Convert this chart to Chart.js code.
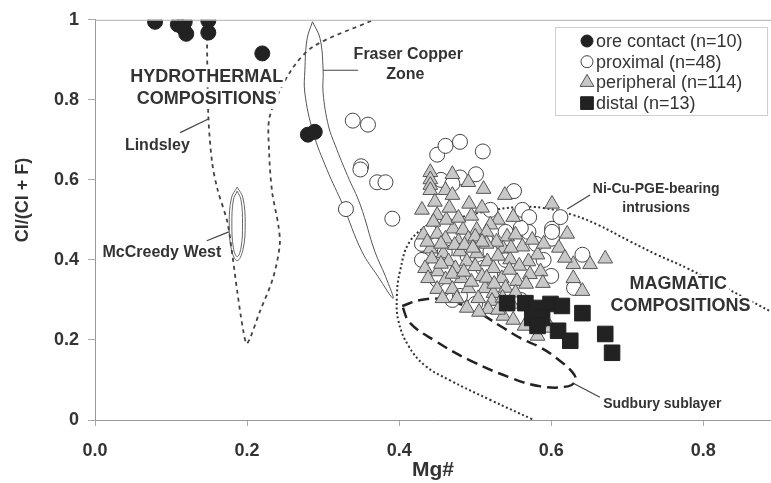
<!DOCTYPE html>
<html>
<head>
<meta charset="utf-8">
<script src="https://cdn.jsdelivr.net/npm/chart.js@4.4.1/dist/chart.umd.min.js"></script>
<style>
  html, body { margin: 0; padding: 0; background: #fff; }
  #wrap { width: 771px; height: 483px; }
</style>
</head>
<body>
<div id="wrap"><canvas id="mgChart"></canvas></div>
<script>
// --- SAMPLE DATA: [Mg#, Cl/(Cl + F)] ---
const oreContact = [
    [0.079, 0.995], [0.109, 0.988], [0.118, 0.995], [0.120, 0.965], [0.116, 0.980],
    [0.149, 0.998], [0.149, 0.968], [0.220, 0.916], [0.280, 0.713], [0.289, 0.720]
];

const proximal = [
    [0.339, 0.748], [0.359, 0.738], [0.350, 0.634], [0.349, 0.626], [0.371, 0.594],
    [0.382, 0.594], [0.330, 0.527], [0.391, 0.503], [0.450, 0.663], [0.461, 0.685],
    [0.480, 0.695], [0.510, 0.671], [0.480, 0.606], [0.501, 0.614], [0.551, 0.572],
    [0.520, 0.525], [0.562, 0.525], [0.571, 0.507], [0.570, 0.470], [0.601, 0.478],
    [0.601, 0.453], [0.612, 0.507], [0.513, 0.453], [0.641, 0.413], [0.445, 0.438],
    [0.601, 0.470], [0.455, 0.600], [0.470, 0.590], [0.440, 0.470], [0.430, 0.440],
    [0.460, 0.420], [0.490, 0.410], [0.520, 0.420], [0.540, 0.470], [0.560, 0.480],
    [0.470, 0.300], [0.480, 0.310], [0.500, 0.290], [0.430, 0.400], [0.450, 0.350],
    [0.520, 0.360], [0.540, 0.400], [0.580, 0.440], [0.590, 0.400], [0.600, 0.360],
    [0.630, 0.330], [0.560, 0.300], [0.510, 0.380]
];

const peripheral = [
    [0.441, 0.619], [0.441, 0.601], [0.441, 0.587], [0.441, 0.574], [0.470, 0.614],
    [0.491, 0.594], [0.511, 0.577], [0.461, 0.574], [0.470, 0.562], [0.539, 0.562],
    [0.601, 0.540], [0.430, 0.525], [0.450, 0.512], [0.509, 0.530], [0.530, 0.500],
    [0.550, 0.507], [0.621, 0.465], [0.520, 0.488], [0.432, 0.463], [0.450, 0.465],
    [0.471, 0.478], [0.484, 0.475], [0.502, 0.475], [0.542, 0.458], [0.553, 0.463],
    [0.461, 0.453], [0.478, 0.446], [0.491, 0.453], [0.500, 0.458], [0.562, 0.433],
    [0.537, 0.428], [0.582, 0.413], [0.441, 0.428], [0.458, 0.416], [0.480, 0.421],
    [0.502, 0.416], [0.443, 0.403], [0.465, 0.396], [0.489, 0.396], [0.516, 0.396],
    [0.546, 0.401], [0.570, 0.396], [0.434, 0.379], [0.451, 0.371], [0.474, 0.379],
    [0.500, 0.384], [0.524, 0.379], [0.586, 0.371], [0.438, 0.354], [0.461, 0.351],
    [0.482, 0.354], [0.509, 0.359], [0.535, 0.354], [0.555, 0.347], [0.572, 0.364],
    [0.589, 0.342], [0.450, 0.327], [0.470, 0.327], [0.491, 0.329], [0.513, 0.329],
    [0.524, 0.317], [0.457, 0.304], [0.476, 0.304], [0.504, 0.304], [0.522, 0.297],
    [0.489, 0.280], [0.517, 0.277], [0.629, 0.389], [0.629, 0.354], [0.641, 0.322],
    [0.651, 0.389], [0.671, 0.403], [0.537, 0.260], [0.582, 0.210], [0.599, 0.230],
    [0.550, 0.250], [0.565, 0.235], [0.445, 0.495], [0.462, 0.500], [0.478, 0.505],
    [0.495, 0.510], [0.515, 0.470], [0.528, 0.445], [0.547, 0.430], [0.515, 0.440],
    [0.530, 0.410], [0.558, 0.385], [0.545, 0.375], [0.567, 0.340], [0.540, 0.330],
    [0.553, 0.318], [0.536, 0.305], [0.548, 0.290], [0.505, 0.270], [0.530, 0.275],
    [0.495, 0.345], [0.473, 0.437], [0.455, 0.440], [0.437, 0.445], [0.486, 0.437],
    [0.509, 0.445], [0.497, 0.430], [0.470, 0.365], [0.485, 0.370], [0.455, 0.390],
    [0.515, 0.355], [0.525, 0.340], [0.610, 0.430], [0.618, 0.405], [0.575, 0.450],
    [0.590, 0.440], [0.447, 0.545], [0.492, 0.540], [0.466, 0.530]
];

const distal = [
    [0.542, 0.292], [0.566, 0.292], [0.581, 0.280], [0.575, 0.255], [0.599, 0.290],
    [0.614, 0.285], [0.588, 0.255], [0.582, 0.235], [0.609, 0.223], [0.625, 0.198],
    [0.641, 0.267], [0.671, 0.215], [0.680, 0.168]
];

// --- FIELD OUTLINES (same units) ---
const lindsley = [
    [0.147, 0.998], [0.149, 0.762], [0.154, 0.644], [0.161, 0.577], [0.174, 0.495],
    [0.180, 0.421], [0.187, 0.322], [0.195, 0.223], [0.200, 0.191], [0.217, 0.272],
    [0.234, 0.354], [0.243, 0.438], [0.241, 0.488], [0.233, 0.569], [0.229, 0.668],
    [0.230, 0.760], [0.257, 0.871], [0.287, 0.933], [0.364, 0.998]
];

const fraser = [
    [0.286, 0.995], [0.296, 0.953], [0.300, 0.874], [0.300, 0.817], [0.307, 0.735],
    [0.316, 0.686], [0.332, 0.611], [0.349, 0.537], [0.368, 0.421], [0.382, 0.359],
    [0.392, 0.304], [0.372, 0.359], [0.351, 0.421], [0.326, 0.537], [0.305, 0.626],
    [0.287, 0.718], [0.276, 0.817], [0.276, 0.874], [0.279, 0.953], [0.286, 0.995]
];

const mccreedyOuter = [
    [0.187, 0.582], [0.1945, 0.555], [0.1975, 0.490], [0.1945, 0.425], [0.187, 0.398],
    [0.1795, 0.425], [0.1765, 0.490], [0.1795, 0.555], [0.187, 0.582]
];
const mccreedyInner = [
    [0.187, 0.572], [0.192, 0.550], [0.194, 0.490], [0.192, 0.430], [0.187, 0.408],
    [0.182, 0.430], [0.180, 0.490], [0.182, 0.550], [0.187, 0.572]
];

const niCuPge = [
    [0.575, 0.002], [0.520, 0.050], [0.467, 0.099], [0.434, 0.136], [0.412, 0.186],
    [0.399, 0.248], [0.397, 0.309], [0.401, 0.371], [0.414, 0.446], [0.441, 0.488],
    [0.471, 0.502], [0.511, 0.520], [0.555, 0.532], [0.589, 0.530], [0.629, 0.512],
    [0.661, 0.488], [0.704, 0.446], [0.739, 0.413], [0.779, 0.379], [0.895, 0.265]
];

const sudbury = [
    [0.404, 0.285], [0.428, 0.300], [0.454, 0.302], [0.493, 0.280], [0.533, 0.235],
    [0.559, 0.205], [0.586, 0.181], [0.608, 0.153], [0.628, 0.119], [0.632, 0.099],
    [0.622, 0.084], [0.586, 0.084], [0.546, 0.106], [0.493, 0.149], [0.447, 0.198],
    [0.414, 0.243], [0.404, 0.285]
];

const xTicks = [0, 0.2, 0.4, 0.6, 0.8];
const xTickLabels = ['0.0', '0.2', '0.4', '0.6', '0.8'];
const yTicks = [0, 0.2, 0.4, 0.6, 0.8, 1];
const yTickLabels = ['0', '0.2', '0.4', '0.6', '0.8', '1'];

const FONT = "'Liberation Sans', Arial, sans-serif";
const toXY = arr => arr.map(p => ({ x: p[0], y: p[1] }));

// text labels inside the plot (anchored in data units)
const labels = [
    { text: 'HYDROTHERMAL', x: 0.147, y: 0.856, size: 18 },
    { text: 'COMPOSITIONS', x: 0.147, y: 0.802, size: 18 },
    { text: 'Lindsley', x: 0.082, y: 0.686, size: 16 },
    { text: 'McCreedy West', x: 0.088, y: 0.418, size: 16 },
    { text: 'Fraser Copper', x: 0.412, y: 0.913, size: 16 },
    { text: 'Zone', x: 0.408, y: 0.864, size: 16 },
    { text: 'Ni-Cu-PGE-bearing', x: 0.738, y: 0.577, size: 14 },
    { text: 'intrusions', x: 0.738, y: 0.530, size: 14 },
    { text: 'MAGMATIC', x: 0.767, y: 0.339, size: 18 },
    { text: 'COMPOSITIONS', x: 0.770, y: 0.285, size: 18 },
    { text: 'Sudbury sublayer', x: 0.746, y: 0.040, size: 14 }
];

const leaders = [
    [0.112, 0.718, 0.149, 0.752],
    [0.147, 0.448, 0.176, 0.470],
    [0.300, 0.874, 0.346, 0.874],
    [0.651, 0.562, 0.621, 0.527],
    [0.664, 0.057, 0.629, 0.092]
];

const legendItems = [
    { text: 'ore contact (n=10)', pointStyle: 'circle', radius: 6, fill: '#222', stroke: '#222' },
    { text: 'proximal (n=48)', pointStyle: 'circle', radius: 6, fill: '#fff', stroke: '#444' },
    { text: 'peripheral (n=114)', pointStyle: 'triangle', radius: 8, fill: '#c8c8c8', stroke: '#555' },
    { text: 'distal (n=13)', pointStyle: 'rect', radius: 9, fill: '#222', stroke: '#222' }
];

function outline(data, color, width, dash, tension) {
    return {
        data: toXY(data), showLine: true, pointRadius: 0, pointHoverRadius: 0,
        borderColor: color, borderWidth: width, borderDash: dash, tension: tension,
        fill: false, order: 10
    };
}

const overlayPlugin = {
    id: 'overlay',
    afterDatasetsDraw(chart) {
        const ctx = chart.ctx;
        const area = chart.chartArea;
        const xs = chart.scales.x, ys = chart.scales.y;
        ctx.save();

        // top frame
        ctx.strokeStyle = '#b0b0b0';
        ctx.lineWidth = 1;
        ctx.beginPath();
        ctx.moveTo(area.left, area.top + 0.5);
        ctx.lineTo(area.right, area.top + 0.5);
        ctx.stroke();

        // labels with white backing
        ctx.textAlign = 'center';
        ctx.textBaseline = 'middle';
        labels.forEach(lb => {
            ctx.font = 'bold ' + lb.size + 'px ' + FONT;
            const px = xs.getPixelForValue(lb.x), py = ys.getPixelForValue(lb.y);
            const w = ctx.measureText(lb.text).width;
            ctx.fillStyle = '#fff';
            ctx.fillRect(px - w / 2 - 2, py - lb.size * 0.55, w + 4, lb.size * 1.1);
            ctx.fillStyle = '#333';
            ctx.fillText(lb.text, px, py);
        });

        // leader lines
        ctx.strokeStyle = '#444';
        ctx.lineWidth = 1.2;
        leaders.forEach(l => {
            ctx.beginPath();
            ctx.moveTo(xs.getPixelForValue(l[0]), ys.getPixelForValue(l[1]));
            ctx.lineTo(xs.getPixelForValue(l[2]), ys.getPixelForValue(l[3]));
            ctx.stroke();
        });

        // legend box
        const bx = 555, by = 27, bw = 212, bh = 88;
        ctx.fillStyle = '#fff';
        ctx.fillRect(bx, by, bw, bh);
        ctx.strokeStyle = '#cfcfcf';
        ctx.lineWidth = 1;
        ctx.strokeRect(bx + 0.5, by + 0.5, bw, bh);
        ctx.textAlign = 'left';
        ctx.font = '18px ' + FONT;
        legendItems.forEach((it, i) => {
            const ly = 41 + i * 20.7;
            ctx.fillStyle = it.fill;
            ctx.strokeStyle = it.stroke;
            Chart.helpers.drawPoint(ctx, { pointStyle: it.pointStyle, radius: it.radius, rotation: 0, borderWidth: 1 }, 587, ly);
            ctx.fillStyle = '#333';
            ctx.fillText(it.text, 596, ly + 1);
        });

        // y axis title
        ctx.save();
        ctx.translate(23, 200);
        ctx.rotate(-Math.PI / 2);
        ctx.textAlign = 'center';
        ctx.font = 'bold 18px ' + FONT;
        ctx.fillStyle = '#333';
        ctx.fillText('Cl/(Cl + F)', 0, 0);
        ctx.restore();

        ctx.restore();
    }
};

const chart = new Chart(document.getElementById('mgChart'), {
    type: 'scatter',
    data: {
        datasets: [
            { label: 'ore contact (n=10)', data: toXY(oreContact), pointStyle: 'circle', pointRadius: 7.5,
              backgroundColor: '#222', borderColor: '#222', borderWidth: 1, order: 0 },
            { label: 'proximal (n=48)', data: toXY(proximal), pointStyle: 'circle', pointRadius: 7.5,
              backgroundColor: '#fff', borderColor: '#444', borderWidth: 1, order: 3 },
            { label: 'peripheral (n=114)', data: toXY(peripheral), pointStyle: 'triangle', pointRadius: 8.5,
              backgroundColor: '#c8c8c8', borderColor: '#555', borderWidth: 1, order: 2 },
            { label: 'distal (n=13)', data: toXY(distal), pointStyle: 'rect', pointRadius: 11,
              backgroundColor: '#222', borderColor: '#222', borderWidth: 1, order: 1 },
            outline(lindsley, '#444', 1.8, [4, 4], 0.3),
            outline(fraser, '#555', 1, [], 0.4),
            outline(mccreedyOuter, '#666', 1, [], 0.4),
            outline(mccreedyInner, '#666', 1, [], 0.4),
            outline(niCuPge, '#333', 2, [2, 2.5], 0.4),
            outline(sudbury, '#222', 2.5, [11, 6], 0.4)
        ]
    },
    options: {
        responsive: true,
        maintainAspectRatio: false,
        animation: false,
        events: [],
        layout: { autoPadding: false, padding: { top: 17, right: 0, left: 0, bottom: 0 } },
        plugins: { legend: { display: false }, tooltip: { enabled: false } },
        scales: {
            x: {
                type: 'linear', min: 0, max: 0.889,
                afterBuildTicks: s => { s.ticks = xTicks.map(v => ({ value: v })); },
                afterFit: s => { s.height = 63; s.paddingLeft = 0; s.paddingRight = 0; },
                ticks: {
                    callback: (v, i) => xTickLabels[i],
                    font: { family: FONT, size: 18, weight: 'bold' }, color: '#333', padding: 14, maxRotation: 0
                },
                grid: { drawOnChartArea: false, drawTicks: true, tickLength: 6, color: '#aaa' },
                border: { color: '#999', width: 1 },
                title: { display: true, text: 'Mg#', color: '#333', padding: { top: 0, bottom: 0 },
                         font: { family: FONT, size: 21, weight: 'bold' } }
            },
            y: {
                type: 'linear', min: 0, max: 1,
                afterBuildTicks: s => { s.ticks = yTicks.map(v => ({ value: v })); },
                afterFit: s => { s.width = 95; },
                ticks: {
                    callback: (v, i) => yTickLabels[i],
                    font: { family: FONT, size: 18, weight: 'bold' }, color: '#333', padding: 9
                },
                grid: { drawOnChartArea: false, drawTicks: true, tickLength: 7, color: '#aaa' },
                border: { color: '#999', width: 1 }
            }
        }
    },
    plugins: [overlayPlugin]
});
</script>
</body>
</html>
